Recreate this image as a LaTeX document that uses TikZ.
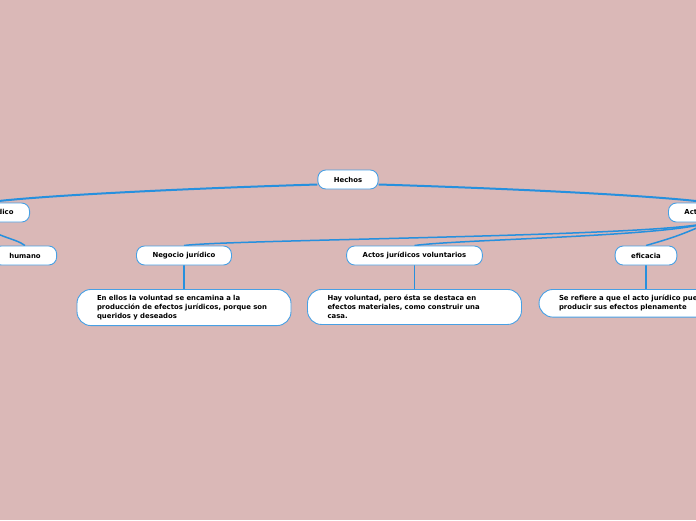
\documentclass[tikz,border=0pt]{standalone}
\usepackage{fontspec}
\setmainfont{DejaVu Sans}
\definecolor{bgc}{RGB}{218,184,183}
\definecolor{edgec}{RGB}{38,144,222}
\definecolor{bordc}{RGB}{72,160,228}
\pgfdeclarelayer{back}
\pgfdeclarelayer{edges}
\pgfsetlayers{back,edges,main}
\begin{document}
\begin{tikzpicture}[x=1pt,y=-1pt,
  topic/.style={draw=bordc, line width=0.9pt, fill=white, rounded corners=8pt,
    minimum height=19pt, inner xsep=16pt, inner ysep=0pt,
    font=\fontsize{6.9}{8.7}\selectfont\bfseries},
  leaf/.style={draw=bordc, line width=0.9pt, fill=white, rounded corners=14pt,
    text width=174pt, align=left, inner xsep=20pt, inner ysep=6pt, anchor=north,
    font=\fontsize{6.9}{8.7}\selectfont\bfseries},
  conn/.style={draw=edgec, line width=1.5pt},
  thin/.style={draw=edgec, line width=1.5pt}]
\useasboundingbox (0,0) rectangle (696,520);
\begin{pgfonlayer}{back}
\fill[bgc] (0,0) rectangle (696,520);
\end{pgfonlayer}
% nodes
\node[topic] (hechos) at (348,179.5) {Hechos};
\node[topic, anchor=east] (hecho) at (30,212.5) {Hecho jurídico};
\node[topic, anchor=west] (acto) at (668,212.5) {Acto jurídico};
\node[topic] (humano) at (25,255.5) {humano};
\node[topic] (neg) at (184,255.5) {Negocio jurídico};
\node[topic] (vol) at (414.5,255.5) {Actos jurídicos voluntarios};
\node[topic] (efi) at (646,255.5) {eficacia};
\node[leaf] (l1) at (184,289) {En ellos la voluntad se encamina a la\\producción de efectos jurídicos, porque son\\queridos y deseados};
\node[leaf] (l2) at (414.5,289) {Hay voluntad, pero ésta se destaca en\\efectos materiales, como construir una\\casa.};
\node[leaf] (l3) at (646,289) {Se refiere a que el acto jurídico puede\\producir sus efectos plenamente};
% connectors
\begin{pgfonlayer}{edges}
\draw[conn, line width=2pt] ([yshift=-5pt]hechos.west) .. controls +(-100,3) and +(60,-8) .. (hecho.north);
\draw[conn, line width=2pt] ([yshift=-5pt]hechos.east) .. controls +(100,3) and +(-60,-8) .. (acto.north);
\draw[conn] (hecho.south) .. controls +(5,14) and +(-10,-8) .. (humano.north);
\draw[conn] (acto.south) .. controls +(-40,14) and +(40,-6) .. (neg.north);
\draw[conn] (acto.south) .. controls +(-40,14) and +(40,-6) .. (vol.north);
\draw[conn] (acto.south) .. controls +(-30,14) and +(20,-6) .. (efi.north);
\draw[thin] (neg.south) -- (l1.north);
\draw[thin] (vol.south) -- (l2.north);
\draw[thin] (efi.south) -- (l3.north);
\end{pgfonlayer}
\end{tikzpicture}
\end{document}
